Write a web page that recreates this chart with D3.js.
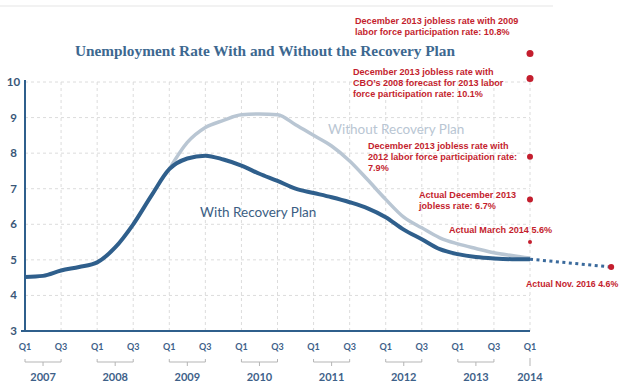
<!DOCTYPE html>
<html>
<head>
<meta charset="utf-8">
<script src="https://cdn.jsdelivr.net/npm/d3@7"></script>
<style>
  body { margin:0; background:#fff; }
  svg { display:block; }
</style>
</head>
<body>
<script>
// quarterly unemployment rate, Q1 2007 .. Q1 2014 (index 0..28)
var withPlan = [4.52,4.55,4.70,4.80,4.93,5.35,6.00,6.80,7.55,7.85,7.93,7.82,7.65,7.42,7.22,7.00,
                6.88,6.76,6.62,6.45,6.20,5.85,5.58,5.30,5.16,5.08,5.04,5.02,5.02];
// without plan starts where the two lines split (Q1 2009 = index 8)
var withoutStart = 8;
var withoutPlan = [7.55,8.30,8.72,8.92,9.08,9.10,9.08,8.80,8.50,8.20,7.78,7.25,6.70,6.20,5.90,5.62,
                   5.45,5.32,5.20,5.12,5.05];
var years = ["2007","2008","2009","2010","2011","2012","2013","2014"];
var quarterNames = ["Q1","Q3"];
var yTicks = [3,4,5,6,7,8,9,10];

// red markers at Q1 2014
var markValues = [10.8, 10.1, 7.9, 6.7, 5.5];
var markSizes = [3.5, 3.5, 3, 3, 2];
var markTexts = [
  ["December 2013 jobless rate with 2009","labor force participation rate: 10.8%"],
  ["December 2013 jobless rate with","CBO\u2019s 2008 forecast for 2013 labor","force participation rate: 10.1%"],
  ["December 2013 jobless rate with","2012 labor force participation rate:","7.9%"],
  ["Actual December 2013","jobless rate: 6.7%"],
  ["Actual March 2014 5.6%"]
];
// dotted extension to Nov 2016 (drawn compressed past Q1 2014)
var extQuarter = 32.5;
var extValue = 4.8;
var extText = "Actual Nov. 2016 4.6%";

var width = 624, height = 389;
var svg = d3.select("body").append("svg")
    .attr("width",width)
    .attr("height",height);

var x = d3.scaleLinear().domain([0,28]).range([25,530]);
var y = d3.scaleLinear().domain([3,10]).range([331,82]);

var blue = "#2f5f8c";
var light = "#b9c6d3";
var red = "#c41e2e";
var tickColor = "#3e6189";

// faint frame line at top
svg.append("line")
  .attr("x1",0).attr("x2",553).attr("y1",6).attr("y2",6)
  .attr("stroke","#eeeeee").attr("stroke-width",1.5);

// title
svg.append("text")
  .attr("x",75).attr("y",56)
  .attr("font-family","'Liberation Serif', 'DejaVu Serif', serif")
  .attr("font-weight","bold")
  .attr("font-size",15.3)
  .attr("fill","#3d6890")
  .text("Unemployment Rate With and Without the Recovery Plan");

// grid
var grid = svg.append("g");
grid.selectAll(".hg")
  .data(yTicks.slice(1))
  .enter()
  .append("line")
  .attr("x1",x(0)).attr("x2",x(28))
  .attr("y1",function(d){ return y(d); })
  .attr("y2",function(d){ return y(d); })
  .attr("stroke","#dcdcdc").attr("stroke-dasharray","3,3");
grid.selectAll(".vg")
  .data(d3.range(2,29,2))
  .enter()
  .append("line")
  .attr("x1",function(d){ return x(d); })
  .attr("x2",function(d){ return x(d); })
  .attr("y1",y(10)).attr("y2",y(3))
  .attr("stroke","#dcdcdc").attr("stroke-dasharray","3,3");

// axes lines
svg.append("line")
  .attr("x1",x(0)).attr("x2",x(0)).attr("y1",y(10)-2).attr("y2",y(3)+1)
  .attr("stroke",blue).attr("stroke-width",2);
svg.append("line")
  .attr("x1",x(0)-4).attr("x2",x(28)).attr("y1",y(3)).attr("y2",y(3))
  .attr("stroke",blue).attr("stroke-width",2);

// y tick labels
svg.selectAll(".yl")
  .data(yTicks)
  .enter()
  .append("text")
  .attr("x",13.5)
  .attr("y",function(d){ return y(d)+4; })
  .attr("text-anchor","middle")
  .attr("font-family","Lato, 'Open Sans', sans-serif")
  .attr("font-weight","bold")
  .attr("font-size",11.5)
  .attr("fill","#3a5778")
  .text(function(d){ return d; });

// quarter labels
var qTicks = [];
years.forEach(function(yr,i){
  quarterNames.forEach(function(q,j){
    var idx = i*4 + j*2;
    if (idx<=28) qTicks.push({idx:idx,label:q});
  });
});
svg.selectAll(".ql")
  .data(qTicks)
  .enter()
  .append("text")
  .attr("x",function(d){ return x(d.idx); })
  .attr("y",350)
  .attr("text-anchor","middle")
  .attr("font-family","Lato, 'Open Sans', sans-serif")
  .attr("font-weight","bold")
  .attr("font-size",9)
  .attr("fill",tickColor)
  .text(function(d){ return d.label; });

// year brackets + labels
var yearG = svg.append("g");
years.forEach(function(yr,i){
  var x0 = x(i*4);
  if (i*4+2<=28) {
    var x1 = x(i*4+2);
    yearG.append("path")
      .attr("d","M"+x0+",359V362H"+x1+"V359M"+((x0+x1)/2)+",362V366")
      .attr("fill","none").attr("stroke","#b5b5b5").attr("stroke-width",1);
    yearG.append("text")
      .attr("x",(x0+x1)/2).attr("y",381)
      .attr("text-anchor","middle")
      .attr("font-family","Lato, 'Open Sans', sans-serif")
      .attr("font-weight","bold").attr("font-size",11)
      .attr("fill",tickColor).text(yr);
  } else {
    yearG.append("line")
      .attr("x1",x0).attr("x2",x0).attr("y1",358).attr("y2",366)
      .attr("stroke","#b5b5b5");
    yearG.append("text")
      .attr("x",x0).attr("y",381)
      .attr("text-anchor","middle")
      .attr("font-family","Lato, 'Open Sans', sans-serif")
      .attr("font-weight","bold").attr("font-size",11)
      .attr("fill",tickColor).text(yr);
  }
});

var line = d3.line()
  .x(function(d){ return x(d[0]); })
  .y(function(d){ return y(d[1]); })
  .curve(d3.curveMonotoneX);

var withoutPts = withoutPlan.map(function(v,i){ return [withoutStart+i, v]; });
var withPts = withPlan.map(function(v,i){ return [i, v]; });

svg.append("path")
  .attr("d",line(withoutPts))
  .attr("fill","none").attr("stroke",light).attr("stroke-width",3.5);

// dotted continuation
svg.append("line")
  .attr("x1",x(28)).attr("y1",y(withPlan[28]))
  .attr("x2",x(extQuarter)).attr("y2",y(extValue))
  .attr("stroke","#3a6a9c").attr("stroke-width",3)
  .attr("stroke-dasharray","3,3.5");

svg.append("path")
  .attr("d",line(withPts))
  .attr("fill","none").attr("stroke",blue).attr("stroke-width",4)
  .attr("stroke-linejoin","round");

// series labels
svg.append("text")
  .attr("x",328).attr("y",134)
  .attr("font-family","Lato, 'Open Sans', sans-serif")
  .attr("font-size",13.5)
  .attr("fill",light)
  .text("Without Recovery Plan");
svg.append("text")
  .attr("x",200).attr("y",217)
  .attr("font-family","Lato, 'Open Sans', sans-serif")
  .attr("font-size",13.5)
  .attr("fill","#3b5e83")
  .text("With Recovery Plan");

// red markers
svg.selectAll(".mk")
  .data(markValues)
  .enter()
  .append("circle")
  .attr("cx",x(28))
  .attr("cy",function(d){ return y(d); })
  .attr("r",function(d,i){ return markSizes[i]; })
  .attr("fill",red);
svg.append("circle")
  .attr("cx",x(extQuarter)).attr("cy",y(extValue))
  .attr("r",3).attr("fill",red);

// marker notes
var notePos = [[355,24],[353,75],[368,149],[419,198],[449,233]];
markTexts.forEach(function(lines,i){
  var t = svg.append("text")
    .attr("font-family","'Liberation Sans', Arial, sans-serif")
    .attr("font-weight","bold")
    .attr("font-size",9.1)
    .attr("fill",red);
  lines.forEach(function(s,k){
    t.append("tspan")
      .attr("x",notePos[i][0])
      .attr("y",notePos[i][1]+k*11.2)
      .text(s);
  });
});
svg.append("text")
  .attr("x",526).attr("y",287)
  .attr("font-family","'Liberation Sans', Arial, sans-serif")
  .attr("font-weight","bold")
  .attr("font-size",8.8)
  .attr("fill",red)
  .text(extText);
</script>
</body>
</html>
